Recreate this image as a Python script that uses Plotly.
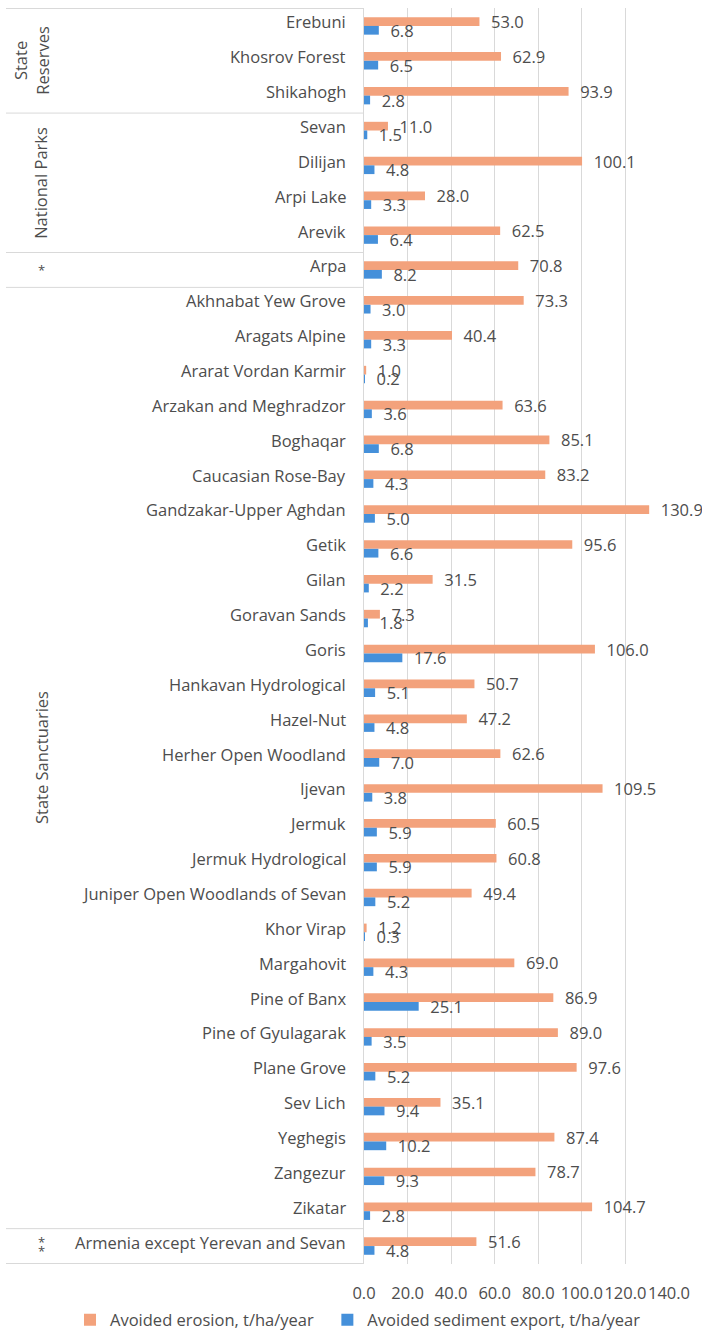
import plotly.graph_objects as go

categories = [
    "Erebuni", "Khosrov Forest", "Shikahogh",
    "Sevan", "Dilijan", "Arpi Lake", "Arevik",
    "Arpa",
    "Akhnabat Yew Grove", "Aragats Alpine", "Ararat Vordan Karmir",
    "Arzakan and Meghradzor", "Boghaqar", "Caucasian Rose-Bay",
    "Gandzakar-Upper Aghdan", "Getik", "Gilan", "Goravan Sands", "Goris",
    "Hankavan Hydrological", "Hazel-Nut", "Herher Open Woodland", "Ijevan",
    "Jermuk", "Jermuk Hydrological", "Juniper Open Woodlands of Sevan",
    "Khor Virap", "Margahovit", "Pine of Banx", "Pine of Gyulagarak",
    "Plane Grove", "Sev Lich", "Yeghegis", "Zangezur", "Zikatar",
    "Armenia except Yerevan and Sevan",
]
erosion = [53.0, 62.9, 93.9, 11.0, 100.1, 28.0, 62.5, 70.8, 73.3, 40.4, 1.0,
           63.6, 85.1, 83.2, 130.9, 95.6, 31.5, 7.3, 106.0, 50.7, 47.2, 62.6,
           109.5, 60.5, 60.8, 49.4, 1.2, 69.0, 86.9, 89.0, 97.6, 35.1, 87.4,
           78.7, 104.7, 51.6]
sediment = [6.8, 6.5, 2.8, 1.5, 4.8, 3.3, 6.4, 8.2, 3.0, 3.3, 0.2, 3.6, 6.8,
            4.3, 5.0, 6.6, 2.2, 1.8, 17.6, 5.1, 4.8, 7.0, 3.8, 5.9, 5.9, 5.2,
            0.3, 4.3, 25.1, 3.5, 5.2, 9.4, 10.2, 9.3, 2.8, 4.8]
series_names = ["Avoided erosion, t/ha/year", "Avoided sediment export, t/ha/year"]
# (label, first index, last index, rotated)
groups = [("State<br>Reserves", 0, 2, True), ("National Parks", 3, 6, True),
          ("*", 7, 7, False), ("State Sanctuaries", 8, 34, True),
          ("**", 35, 35, False)]
x_ticks = [0, 20, 40, 60, 80, 100, 120, 140]

ORANGE = "#F3A27C"
BLUE = "#4590DA"
TXT = "#4D4D4D"
FONT = "Open Sans"
FS = 16.5

fig = go.Figure()
for i, (name, vals, col) in enumerate([(series_names[0], erosion, ORANGE),
                                       (series_names[1], sediment, BLUE)]):
    fig.add_trace(go.Bar(
        y=categories, x=vals, orientation="h",
        name=name + ("\u00a0\u00a0" if i == 0 else ""),
        marker=dict(color=col, line=dict(width=0)),
        text=[f"\u00a0\u00a0{v:.1f}" for v in vals],
        textposition="outside", constraintext="none", cliponaxis=False,
        textfont=dict(size=FS, color=TXT, family=FONT),
    ))

L, R, T, B = 364, 33, 8, 75
W, H = 702, 1339
pw = W - L - R
ph = H - T - B

def px2paper(px):
    return (px - L) / pw

shapes = []
for yb in [-0.5, 2.5, 6.5, 7.5, 34.5, 35.5]:
    shapes.append(dict(type="line", xref="paper", yref="y", x0=px2paper(6), x1=0,
                       y0=yb, y1=yb, line=dict(color="#D9D9D9", width=1)))

annotations = []
for label, a, b, rotated in groups:
    xpos = 31 if label == "State<br>Reserves" else 41
    if rotated:
        parts = [(label, 0)]
    else:
        n = len(label)
        parts = [("*", 4.5 - 9 * k) for k in range(n)] if n > 1 else [("*", 0)]
    for txt, ys in parts:
        annotations.append(dict(
            text=txt, xref="paper", yref="y", x=px2paper(xpos), y=(a + b) / 2,
            yshift=ys, textangle=-90 if rotated else 0, showarrow=False,
            xanchor="center", yanchor="middle",
            font=dict(size=FS if rotated else 13, color=TXT, family=FONT),
            align="center",
        ))
for cat in categories:
    annotations.append(dict(
        text=cat, xref="paper", yref="y", x=px2paper(348), y=cat,
        showarrow=False, xanchor="right", yanchor="middle", yshift=4,
        font=dict(size=FS, color=TXT, family=FONT),
    ))

fig.update_layout(
    width=W, height=H, margin=dict(l=L, r=R, t=T, b=B, autoexpand=False),
    paper_bgcolor="white", plot_bgcolor="white",
    barmode="group", bargap=0.5, bargroupgap=0,
    font=dict(family=FONT, size=FS, color=TXT),
    shapes=shapes, annotations=annotations,
    showlegend=True,
    legend=dict(orientation="h", x=px2paper(70), xanchor="left",
                y=-(1320 - (H - B)) / ph,
                yanchor="middle", font=dict(size=FS, color=TXT, family=FONT),
                traceorder="normal", itemwidth=30),
    xaxis=dict(range=[0, 140], tickvals=x_ticks, ticktext=[f"{v:.1f}" for v in x_ticks],
               showgrid=True, gridcolor="#D9D9D9", gridwidth=1, zeroline=False,
               showline=False, ticks="", ticklabelstandoff=17, automargin=False,
               tickangle=0, tickfont=dict(size=FS, color=TXT, family=FONT)),
    yaxis=dict(autorange="reversed", type="category", showgrid=False,
               showline=True, linecolor="#D9D9D9", linewidth=1, ticks="",
               showticklabels=False, automargin=False),
)

fig.write_html("out.html", config={"displayModeBar": False},
               post_script="document.body.style.margin='0';document.body.style.overflow='hidden';")
